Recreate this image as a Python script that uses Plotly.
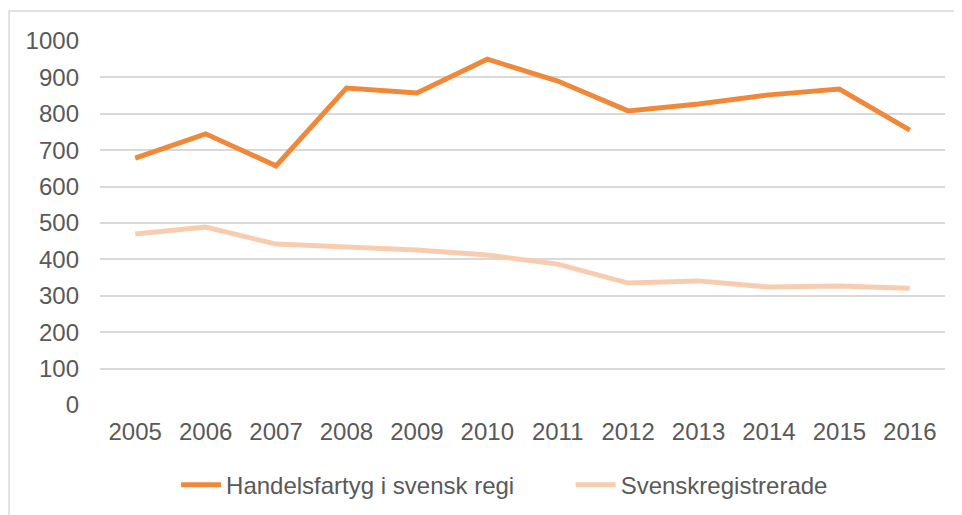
import plotly.graph_objects as go

years = ["2005", "2006", "2007", "2008", "2009", "2010", "2011", "2012", "2013", "2014", "2015", "2016"]
handelsfartyg = [678, 745, 657, 871, 857, 950, 890, 808, 827, 852, 868, 755]
svenskregistrerade = [470, 489, 442, 434, 426, 412, 387, 335, 341, 324, 327, 321]
y_ticks = [0, 100, 200, 300, 400, 500, 600, 700, 800, 900, 1000]

fig = go.Figure()
fig.add_trace(go.Scatter(x=years, y=handelsfartyg, mode="lines", name="Handelsfartyg i svensk regi",
                         line=dict(color="#F0883A", width=5), legend="legend"))
fig.add_trace(go.Scatter(x=years, y=svenskregistrerade, mode="lines", name="Svenskregistrerade",
                         line=dict(color="#F8CDAF", width=5), legend="legend2"))

leg_common = dict(orientation="h", y=-0.22, yanchor="middle", xanchor="left",
                  font=dict(size=24, color="#595959"), itemwidth=40, bgcolor="rgba(0,0,0,0)")

fig.update_layout(
    width=962, height=515,
    margin=dict(l=92, r=25, t=33, b=118, autoexpand=False),
    paper_bgcolor="white", plot_bgcolor="white",
    font=dict(family="Liberation Sans, Arial, sans-serif", size=24, color="#595959"),
    showlegend=True,
    legend=dict(x=0.09, **leg_common),
    legend2=dict(x=0.557, **leg_common),
    xaxis=dict(type="category", range=[-0.5, 11.5], showgrid=False, zeroline=False,
               showline=False, ticks="", ticklabelstandoff=10),
    yaxis=dict(range=[0, 1000], tickvals=y_ticks, showgrid=True, gridcolor="#D9D9D9",
               gridwidth=1.5, zeroline=False, showline=False, ticks="", ticklabelstandoff=20),
    shapes=[dict(type="rect", xref="paper", yref="paper", x0=-0.1076, y0=-0.35, x1=1.1,
                 y1=1.0824, line=dict(color="#D9D9D9", width=1.5), fillcolor="rgba(0,0,0,0)",
                 layer="below")],
)

fig.write_html("out.html")
